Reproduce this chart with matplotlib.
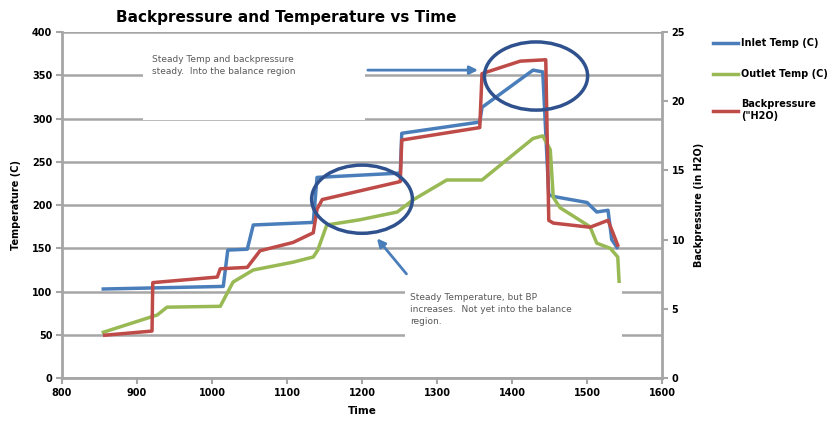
import matplotlib.pyplot as plt
from matplotlib.patches import Ellipse, Rectangle
import numpy as np

# readings over the day (time as hhmm number)
inlet_time = [855, 1015, 1021, 1047, 1055, 1135, 1140, 1251, 1253, 1357, 1360, 1428, 1441,
              1449, 1455, 1500, 1513, 1528, 1533, 1540]
inlet_temp = [103, 106, 148, 149, 177, 180, 232, 237, 283, 296, 313, 356, 354,
              212, 210, 203, 192, 194, 160, 151]

outlet_time = [855, 927, 940, 1011, 1028, 1055, 1108, 1135, 1141, 1153, 1197, 1247, 1268, 1313,
               1360, 1428, 1441, 1451, 1455, 1464, 1504, 1513, 1531, 1541, 1543]
outlet_temp = [53, 73, 82, 83, 111, 125, 134, 140, 148, 177, 183, 192, 206, 229,
               229, 277, 280, 264, 209, 197, 175, 156, 150, 140, 108]

bp_time = [857, 920, 921, 1007, 1011, 1047, 1064, 1108, 1135, 1140, 1147, 1251, 1253, 1357,
           1360, 1411, 1445, 1449, 1455, 1504, 1528, 1541]
bp = [3.1, 3.4, 6.9, 7.3, 7.9, 8.0, 9.2, 9.8, 10.5, 12.2, 12.9, 14.2, 17.2, 18.1,
      22.0, 22.9, 23.0, 11.4, 11.2, 10.9, 11.4, 9.6]

xticks = list(range(800, 1700, 100))
temp_ticks = list(range(0, 450, 50))
bp_ticks = list(range(0, 30, 5))

blue = '#4A7EBB'
green = '#98B954'
red = '#BE4B48'
grey = '#a6a6a6'
dark = '#2F528F'

fig = plt.figure(figsize=(8.27, 4.22), dpi=100)
ax = fig.add_axes([0.075, 0.104, 0.7255, 0.82])
ax2 = ax.twinx()

ax.set_xlim(800, 1600)
ax.set_ylim(0, 400)
ax2.set_ylim(0, 25)
ax.set_xticks(xticks)
ax.set_yticks(temp_ticks)
ax2.set_yticks(bp_ticks)

ax.yaxis.grid(True, color=grey, lw=1.8)
ax.set_axisbelow(True)
for s in ['top']:
    ax.spines[s].set_visible(False)
    ax2.spines[s].set_visible(False)
for s in ['left', 'bottom']:
    ax.spines[s].set_color(grey)
    ax.spines[s].set_linewidth(2)
ax2.spines['right'].set_color(grey)
ax2.spines['right'].set_linewidth(2)
ax2.spines['left'].set_visible(False)
ax2.spines['bottom'].set_visible(False)
ax.spines['right'].set_visible(False)

ax.tick_params(axis='both', color=grey, width=1.5, length=4, labelsize=7, pad=3)
ax2.tick_params(axis='y', color=grey, width=1.5, length=4, labelsize=7, pad=3)
for lbl in ax.get_xticklabels() + ax.get_yticklabels() + ax2.get_yticklabels():
    lbl.set_fontweight('bold')

l1, = ax.plot(inlet_time, inlet_temp, color=blue, lw=2.5, label='Inlet Temp (C)')
l2, = ax.plot(outlet_time, outlet_temp, color=green, lw=2.5, label='Outlet Temp (C)')
l3, = ax2.plot(bp_time, bp, color=red, lw=2.5, label='Backpressure\n("H2O)')

ax.set_xlabel('Time', fontsize=7.5, fontweight='bold', labelpad=6)
ax.set_ylabel('Temperature (C)', fontsize=7, fontweight='bold', labelpad=8)
ax2.set_ylabel('Backpressure (in H2O)', fontsize=7, fontweight='bold', labelpad=6)

fig.text(0.346, 0.958, 'Backpressure and Temperature vs Time', ha='center', va='center',
         fontsize=11, fontweight='bold')

fig.legend(handles=[l1, l2, l3], loc='upper left', bbox_to_anchor=(0.857, 0.918),
           frameon=False, prop={'weight': 'bold', 'size': 7}, handlelength=2.6,
           handletextpad=0.3, labelspacing=2.1, borderaxespad=0)

# note boxes
ax2.add_patch(Rectangle((0.135, 0.746), 0.37, 0.231, transform=ax.transAxes,
                        facecolor='white', edgecolor='none', zorder=5))
ax2.text(0.150, 0.935, 'Steady Temp and backpressure\nsteady.  Into the balance region',
         transform=ax.transAxes, fontsize=6.5, color='#595959', va='top', zorder=6,
         linespacing=1.5)
ax2.add_patch(Rectangle((0.572, 0.095), 0.361, 0.18, transform=ax.transAxes,
                        facecolor='white', edgecolor='none', zorder=5))
ax2.text(0.580, 0.245, 'Steady Temperature, but BP\nincreases.  Not yet into the balance\nregion.',
         transform=ax.transAxes, fontsize=6.5, color='#595959', va='top', zorder=6,
         linespacing=1.4)

# ellipses around the balance regions
ax2.add_patch(Ellipse((0.5, 0.517), 0.168, 0.197, transform=ax.transAxes,
                      fill=False, edgecolor=dark, lw=2.5, zorder=7))
ax2.add_patch(Ellipse((0.79, 0.873), 0.172, 0.197, transform=ax.transAxes,
                      fill=False, edgecolor=dark, lw=2.5, zorder=7))

ax2.annotate('', xy=(0.698, 0.890), xytext=(0.505, 0.890), xycoords=ax.transAxes,
             arrowprops=dict(arrowstyle='-|>', color=blue, lw=2, mutation_scale=12), zorder=8)
ax2.annotate('', xy=(0.522, 0.410), xytext=(0.577, 0.295), xycoords=ax.transAxes,
             arrowprops=dict(arrowstyle='-|>', color=blue, lw=2, mutation_scale=12), zorder=8)

fig.savefig('out.png', dpi=100)
